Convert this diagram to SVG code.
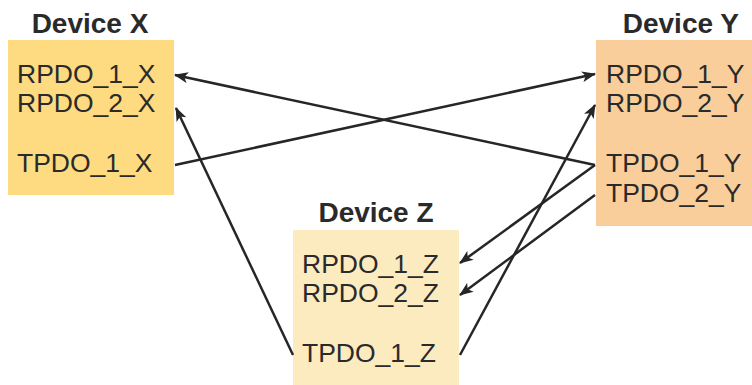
<svg xmlns="http://www.w3.org/2000/svg" width="752" height="385" viewBox="0 0 752 385">
<defs>
<marker id="ah" markerWidth="14" markerHeight="11" refX="13" refY="5.5" orient="auto" markerUnits="userSpaceOnUse">
<path d="M0,0 L14,5.5 L0,11 L3.5,5.5 Z" fill="#262626"/>
</marker>
<style>
.t{font-family:"Liberation Sans",Arial,sans-serif;font-size:26.5px;fill:#2a2a2a}
.h{font-family:"Liberation Sans",Arial,sans-serif;font-size:28px;font-weight:bold;fill:#2a2a2a}
.c{stroke:#262626;stroke-width:2.5;fill:none;marker-end:url(#ah)}
</style>
</defs>
<g id="deviceX">
<text class="h" x="90" y="33" text-anchor="middle">Device X</text>
<rect x="8" y="40" width="166" height="155" fill="#FEDA80"/>
<text class="t" x="17" y="83">RPDO_1_X</text>
<text class="t" x="17" y="112">RPDO_2_X</text>
<text class="t" x="17" y="172">TPDO_1_X</text>
</g>
<g id="deviceY">
<text class="h" x="739" y="33" text-anchor="end">Device Y</text>
<rect x="596" y="40" width="156" height="186" fill="#F9CE9A"/>
<text class="t" x="606" y="83">RPDO_1_Y</text>
<text class="t" x="606" y="112">RPDO_2_Y</text>
<text class="t" x="606" y="172">TPDO_1_Y</text>
<text class="t" x="606" y="202">TPDO_2_Y</text>
</g>
<g id="deviceZ">
<text class="h" x="376" y="222" text-anchor="middle">Device Z</text>
<rect x="293" y="230" width="166" height="155" fill="#FDEBC0"/>
<text class="t" x="302" y="273">RPDO_1_Z</text>
<text class="t" x="302" y="302">RPDO_2_Z</text>
<text class="t" x="302" y="362">TPDO_1_Z</text>
</g>
<g id="connectors">
<line class="c" x1="595" y1="165" x2="175" y2="75"/>
<line class="c" x1="175" y1="165" x2="595" y2="74"/>
<line class="c" x1="293" y1="355" x2="176" y2="108"/>
<line class="c" x1="460" y1="355" x2="595" y2="105"/>
<line class="c" x1="595" y1="165" x2="460" y2="263"/>
<line class="c" x1="595" y1="195" x2="460" y2="295"/>
</g>
</svg>
